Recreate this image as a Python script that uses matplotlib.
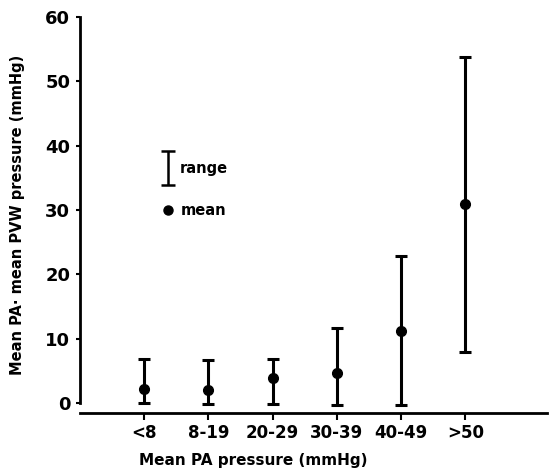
import matplotlib
matplotlib.use("Agg")
import matplotlib.pyplot as plt

categories = ["<8", "8-19", "20-29", "30-39", "40-49", ">50"]
means = [2.2, 2.1, 3.9, 4.7, 11.2, 31.0]
range_low = [0.0, -0.1, -0.1, -0.3, -0.3, 8.0]
range_high = [6.8, 6.7, 6.8, 11.7, 22.9, 53.8]
y_ticks = [0, 10, 20, 30, 40, 50, 60]

plt.rcParams['font.family'] = ['DejaVu Sans']
plt.rcParams['font.weight'] = 'bold'

fig = plt.figure(figsize=(5.49, 4.74), dpi=100)
ax = fig.add_axes([80/549, (474-413)/474, 467/549, (413-17)/474])

x = list(range(1, len(categories) + 1))
lw = 2.2
for xi, m, lo, hi in zip(x, means, range_low, range_high):
    ax.errorbar([xi], [(lo + hi) / 2], yerr=[[(hi - lo) / 2], [(hi - lo) / 2]],
                fmt='none', ecolor='black', elinewidth=lw, capsize=4.4, capthick=lw)
ax.plot(x, means, 'o', color='black', markersize=7)

# legend drawn inside plot
ax.errorbar([1.37], [36.5], yerr=[[2.6], [2.6]], fmt='none', ecolor='black',
            elinewidth=1.8, capsize=4.7, capthick=1.8)
ax.text(1.55, 36.5, "range", fontsize=10.5, fontweight='bold', va='center', ha='left')
ax.plot([1.37], [30.0], 'o', color='black', markersize=6.5)
ax.text(1.57, 30.0, "mean", fontsize=10.5, fontweight='bold', va='center', ha='left')

ax.set_xlim(0, 7.27)
ax.set_ylim(-1.55, 60)
ax.set_xticks(x)
ax.set_xticklabels(categories, fontsize=12, fontweight='bold')
ax.set_yticks(y_ticks)
ax.set_yticklabels([str(v) for v in y_ticks], fontsize=13, fontweight='bold')

for s in ['top', 'right']:
    ax.spines[s].set_visible(False)
ax.spines['left'].set_bounds(0, 60)
ax.spines['left'].set_linewidth(2)
ax.spines['bottom'].set_linewidth(2)
ax.tick_params(axis='y', length=3, width=1.5, pad=4)
ax.tick_params(axis='x', length=5, width=1.5, pad=3)

fig.text(253/549, 1 - 460/474, "Mean PA pressure (mmHg)", fontsize=11,
         fontweight='bold', ha='center', va='center')
fig.text(18/549, 1 - 215/474, "Mean PA\u00b7 mean PVW pressure (mmHg)", fontsize=10.5,
         fontweight='bold', ha='center', va='center', rotation=90)

fig.savefig("out.png", dpi=100)
